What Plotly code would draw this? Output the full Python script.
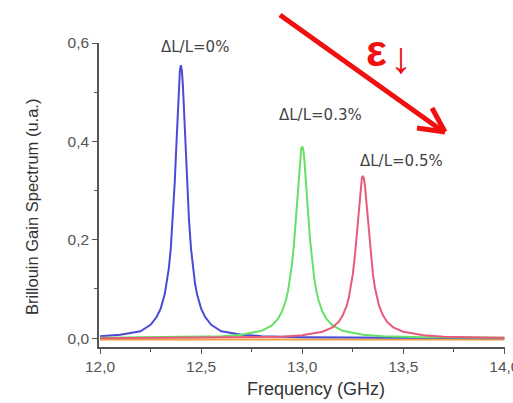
import plotly.graph_objects as go

# ---- data ----
freq_blue = [12.00, 12.10, 12.20, 12.25, 12.28, 12.30, 12.32, 12.33, 12.34, 12.35, 12.36, 12.37, 12.375,
             12.38, 12.385, 12.39, 12.395, 12.40,
             12.405, 12.41, 12.415, 12.42, 12.425, 12.43, 12.44, 12.45, 12.46, 12.47, 12.48, 12.50,
             12.52, 12.55, 12.60, 12.70, 12.80, 13.00, 13.50, 14.00]
gain_blue = [0.004, 0.007, 0.014, 0.027, 0.043, 0.060, 0.089, 0.111, 0.141, 0.182, 0.241, 0.320, 0.368,
             0.418, 0.469, 0.513, 0.544, 0.555,
             0.544, 0.513, 0.469, 0.418, 0.368, 0.320, 0.241, 0.182, 0.141, 0.111, 0.089, 0.060,
             0.043, 0.027, 0.014, 0.007, 0.004, 0.002, 0.001, 0.000]

freq_green = [12.00, 12.40, 12.60, 12.70, 12.80, 12.85, 12.88, 12.90, 12.92, 12.93, 12.94, 12.95, 12.96, 12.97,
              12.975, 12.98, 12.985, 12.99, 12.995, 13.00,
              13.005, 13.01, 13.015, 13.02, 13.025, 13.03, 13.04, 13.05, 13.06, 13.07, 13.08, 13.10,
              13.12, 13.15, 13.20, 13.30, 13.40, 13.60, 14.00]
gain_green = [0.001, 0.002, 0.004, 0.007, 0.015, 0.026, 0.039, 0.054, 0.078, 0.096, 0.120, 0.152, 0.195, 0.250,
              0.280, 0.312, 0.342, 0.367, 0.384, 0.390,
              0.384, 0.367, 0.342, 0.312, 0.280, 0.250, 0.195, 0.152, 0.120, 0.096, 0.078, 0.054,
              0.039, 0.026, 0.015, 0.007, 0.004, 0.002, 0.001]

freq_red = [12.00, 12.70, 12.90, 13.00, 13.10, 13.15, 13.18, 13.20, 13.22, 13.23, 13.24, 13.25, 13.26, 13.27,
            13.275, 13.28, 13.285, 13.29, 13.295, 13.30,
            13.305, 13.31, 13.315, 13.32, 13.325, 13.33, 13.34, 13.35, 13.36, 13.37, 13.38, 13.40,
            13.42, 13.45, 13.50, 13.60, 13.70, 13.90, 14.00]
gain_red = [0.000, 0.002, 0.003, 0.006, 0.013, 0.022, 0.033, 0.046, 0.066, 0.081, 0.102, 0.129, 0.165, 0.211,
            0.237, 0.264, 0.289, 0.311, 0.325, 0.330,
            0.325, 0.311, 0.289, 0.264, 0.237, 0.211, 0.165, 0.129, 0.102, 0.081, 0.066, 0.046,
            0.033, 0.022, 0.013, 0.006, 0.003, 0.0015, 0.001]

freq_base = [12.00, 14.00]
gain_base = [-0.003, -0.003]

labels = ["ΔL/L=0%", "ΔL/L=0.3%", "ΔL/L=0.5%"]
label_x = [12.47, 13.09, 13.49]
label_y = [0.592, 0.453, 0.360]

x_ticks = [12.0, 12.5, 13.0, 13.5, 14.0]
y_ticks = [0.0, 0.2, 0.4, 0.6]

# ---- figure ----
W, H = 513, 403
L, R, T, B = 99, 8, 43, 56
pw, ph = W - L - R, H - T - B

def px(x):
    return (x - L) / pw

def py(y):
    return (H - B - y) / ph

fig = go.Figure()
fig.add_trace(go.Scatter(x=freq_base, y=gain_base, mode="lines",
                         line=dict(color="#f0a040", width=2), showlegend=False))
fig.add_trace(go.Scatter(x=freq_blue, y=gain_blue, mode="lines",
                         line=dict(color="#4a4ad8", width=2), showlegend=False))
fig.add_trace(go.Scatter(x=freq_green, y=gain_green, mode="lines",
                         line=dict(color="#66e066", width=2), showlegend=False))
fig.add_trace(go.Scatter(x=freq_red, y=gain_red, mode="lines",
                         line=dict(color="#e85a7a", width=2), showlegend=False))

for t, x, y in zip(labels, label_x, label_y):
    fig.add_annotation(x=x, y=y, text=t, showarrow=False, xanchor="center", yanchor="middle",
                       font=dict(size=15, color="#444444", family="DejaVu Sans"))

# red arrow
red = "#f01010"
fig.add_shape(type="line", xref="paper", yref="paper",
              x0=px(280), y0=py(15), x1=px(441), y1=py(130),
              line=dict(color=red, width=5))
fig.add_shape(type="line", xref="paper", yref="paper",
              x0=px(445), y0=py(132), x1=px(417), y1=py(128),
              line=dict(color=red, width=5))
fig.add_shape(type="line", xref="paper", yref="paper",
              x0=px(445), y0=py(132), x1=px(432), y1=py(108),
              line=dict(color=red, width=5))
fig.add_annotation(xref="paper", yref="paper", x=px(376), y=py(50), text="<b>ε</b>",
                   xanchor="center", yanchor="middle",
                   showarrow=False, font=dict(size=44, color=red, family="Liberation Sans"))
fig.add_annotation(xref="paper", yref="paper", x=px(401), y=py(58), text="↓",
                   xanchor="center", yanchor="middle",
                   showarrow=False, font=dict(size=44, color=red, family="Liberation Sans"))

# axis titles
fig.add_annotation(xref="paper", yref="paper", x=px(316), y=py(389), text="Frequency (GHz)",
                   xanchor="center", yanchor="middle",
                   showarrow=False, font=dict(size=18, color="#333333", family="Liberation Sans"))
fig.add_annotation(xref="paper", yref="paper", x=px(32), y=py(207), text="Brillouin Gain Spectrum (u.a.)",
                   xanchor="center", yanchor="middle", textangle=-90, showarrow=False,
                   font=dict(size=16.5, color="#333333", family="Liberation Sans"))

axis_common = dict(showline=True, linecolor="#555555", linewidth=1.5, showgrid=False,
                   zeroline=False, ticks="outside", ticklen=5, tickwidth=1.2, tickcolor="#555555",
                   tickfont=dict(size=15.5, color="#555555", family="Liberation Sans"),
                   ticklabeloverflow="allow", automargin=False)

fig.update_layout(
    width=W, height=H, margin=dict(l=L, r=R, t=T, b=B),
    paper_bgcolor="white", plot_bgcolor="white",
    separators=",.",
    xaxis=dict(range=[11.995, 14.003], tickvals=x_ticks, tickformat=".1f",
               minor=dict(ticks="outside", ticklen=3, dtick=0.25, tickcolor="#555555"),
               **axis_common),
    yaxis=dict(range=[-0.018, 0.6], tickvals=y_ticks, tickformat=".1f",
               minor=dict(ticks="outside", ticklen=3, tickvals=[0.1, 0.3, 0.5], tickcolor="#555555"),
               **axis_common),
)

fig.write_html("out.html")
